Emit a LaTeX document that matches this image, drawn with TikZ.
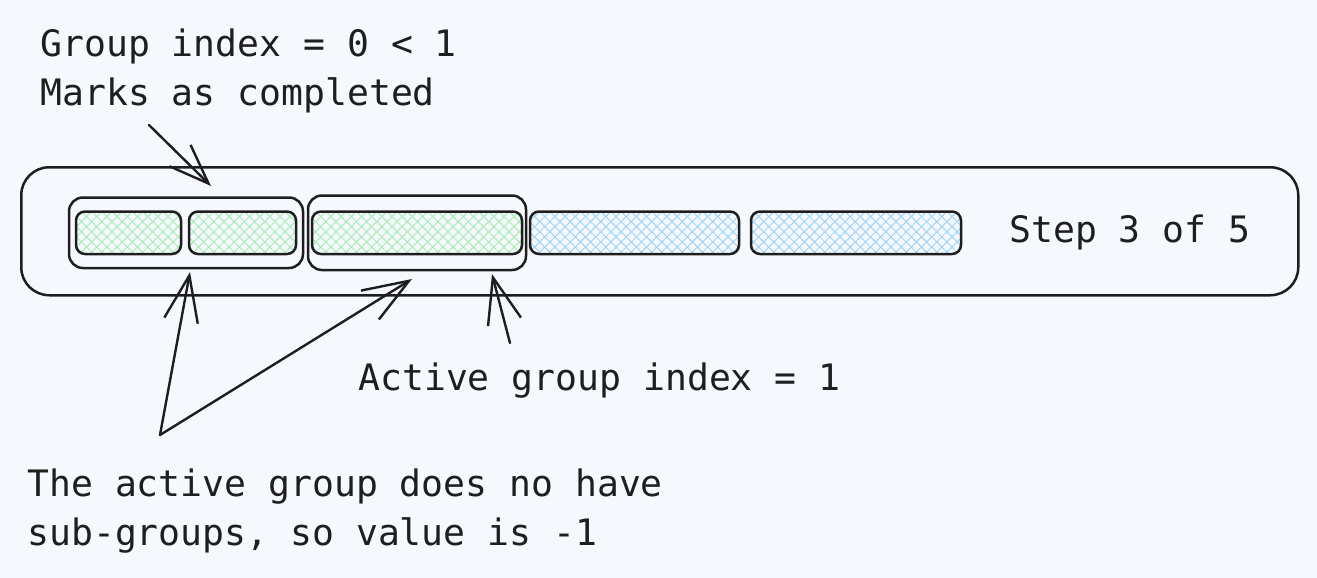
\documentclass[tikz,border=0pt]{standalone}
\usepackage{fontspec}
\setmonofont{DejaVu Sans Mono}
\usetikzlibrary{arrows.meta, positioning, fit, patterns.meta}
\definecolor{bgblue}{RGB}{245,249,254}
\definecolor{ink}{RGB}{30,30,30}
\definecolor{hatchgreen}{RGB}{170,236,180}
\definecolor{hatchblue}{RGB}{160,212,250}

\begin{document}
\begin{tikzpicture}
				[x=0.5pt, y=-0.5pt,
				hatch/.style={preaction={pattern={Lines[angle=45,distance=3.6pt,line width=0.5pt]}, pattern color=#1},
					pattern={Lines[angle=-45,distance=3.6pt,line width=0.5pt]}, pattern color=#1},
				bar/.style={rectangle, draw=ink, line width=1.25pt, rounded corners=4.5pt, inner sep=0pt, outer sep=0pt, minimum height=21.25pt},
				grp/.style={rectangle, draw=ink, line width=1.25pt, rounded corners=7pt},
				note/.style={font=\ttfamily\fontsize{18.2}{24.5}\selectfont, text=ink, inner sep=0pt, align=left},
				arr/.style={draw=ink, line width=1.2pt, line cap=round, -{Straight Barb[length=23pt,width=17pt]}}]
				\useasboundingbox (0,0) rectangle (1317,578);
				\fill[bgblue] (0,0) rectangle (1317,578);
				\node [rectangle, draw=ink, line width=1.25pt, rounded corners=14pt, minimum width=638.5pt, minimum height=64pt, anchor=north west] (track) at (20,166) {};
				\node [bar, hatch=hatchgreen, minimum width=52.5pt, anchor=north west] (bar1) at (76,211.5) {};
				\node [bar, hatch=hatchgreen, minimum width=53.5pt] (bar2) [right=4pt of bar1] {};
				\node [bar, hatch=hatchgreen, minimum width=105pt] (bar3) [right=8pt of bar2] {};
				\node [bar, hatch=hatchblue, minimum width=104.5pt] (bar4) [right=4pt of bar3] {};
				\node [bar, hatch=hatchblue, minimum width=105pt] (bar5) [right=6pt of bar4] {};
				\node [grp, fit=(bar1)(bar2), inner xsep=3.5pt, inner ysep=7pt] (grpDone) {};
				\node [grp, fit=(bar3), inner xsep=2pt, inner ysep=8pt] (grpActive) {};
				\node [note, anchor=base west] (stepLabel) at (1009,242) {Step 3 of 5};
				% notes (base is the last line)
				\node [note, anchor=base west] (doneNote) at (40,105) {Group index = 0 < 1\\Marks as completed};
				\node [note, anchor=base west] (activeNote) at (358,390) {Active group index = 1};
				\node [note, anchor=base west] (subNote) at (27,545) {The active group does no have\\sub-groups, so value is -1};
				\coordinate (doneTail) at (149,125);
				\coordinate (doneTip) at (211,186);
				\coordinate (subTail) at (160,435);
				\coordinate (subTipA) at (190,272);
				\coordinate (subTipB) at (412,279);
				\coordinate (activeTail) at (510,343);
				\coordinate (activeTip) at (492,274);
				\draw [arr, -{Straight Barb[length=20pt,width=15pt]}] (doneTail) -- (doneTip);
				\draw [arr] (subTail) -- (subTipA);
				\draw [arr] (subTail) -- (subTipB);
				\draw [arr] (activeTail) -- (activeTip);
			\end{tikzpicture}
\end{document}
